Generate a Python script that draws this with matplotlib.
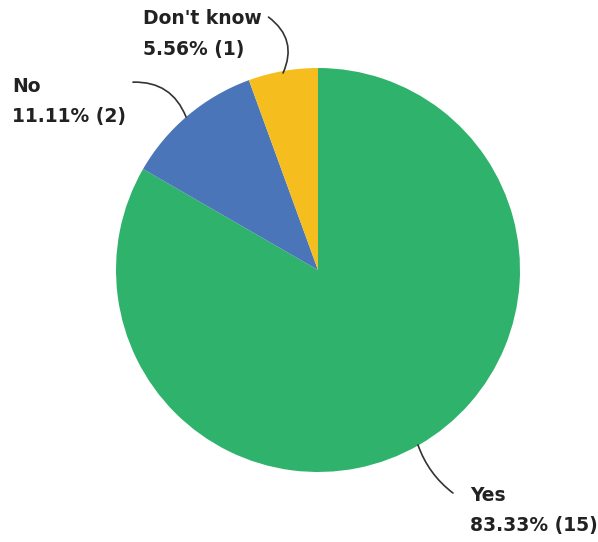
import matplotlib.pyplot as plt

plt.rcParams['font.family'] = ['DejaVu Sans']

# Survey answers
answers = ['Yes', 'No', "Don't know"]
counts = [15, 2, 1]
colors = ['#2fb36c', '#4a75b9', '#f6bd1e']

# label text position (top-left, data units) and leader line ends
label_pos = [(0.752, -1.07), (-1.515, 0.955), (-0.866, 1.29)]
line_from = [(0.668, -1.104), (-0.916, 0.93), (-0.245, 1.252)]
line_to = [(0.495, -0.866), (-0.653, 0.757), (-0.173, 0.975)]
line_rad = [-0.15, -0.35, -0.4]

fig = plt.figure(figsize=(5.98, 5.42), dpi=100)
ax = fig.add_axes([116 / 598, 70 / 542, 404 / 598, 404 / 542])

ax.pie(counts, colors=colors, startangle=90, counterclock=False, radius=1,
       wedgeprops=dict(linewidth=0))
ax.set_xlim(-1, 1)
ax.set_ylim(-1, 1)
ax.set_aspect('equal')
ax.axis('off')

total = sum(counts)
for name, n, (tx, ty), p0, p1, rad in zip(answers, counts, label_pos,
                                          line_from, line_to, line_rad):
    ax.text(tx, ty, name, fontsize=13.5, fontweight='bold', color='#222222',
            ha='left', va='top', clip_on=False)
    ax.text(tx, ty - 0.15, f'{n / total * 100:.2f}% ({n})', fontsize=13.5,
            fontweight='bold', color='#222222', ha='left', va='top',
            clip_on=False)
    ax.annotate('', xy=p1, xytext=p0, annotation_clip=False,
                arrowprops=dict(arrowstyle='-', color='#333333', lw=1.2,
                                connectionstyle=f'arc3,rad={rad}',
                                shrinkA=0, shrinkB=0))

plt.savefig('out.png', dpi=100)
